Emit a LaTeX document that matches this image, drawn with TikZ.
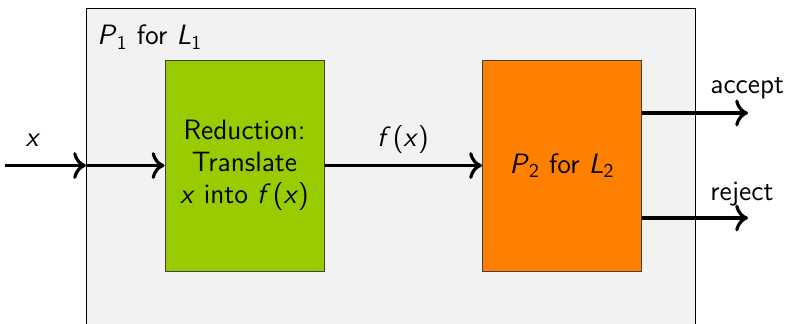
\documentclass[tikz,border=0pt]{standalone}
\usetikzlibrary{arrows.meta}
\renewcommand{\familydefault}{\sfdefault}
\newcommand{\mv}[1]{\textit{#1}}
\newcommand{\sub}[1]{\textsubscript{#1}}
\definecolor{regiongray}{HTML}{F2F2F2}
\definecolor{redgreen}{HTML}{99CC00}
\definecolor{decorange}{HTML}{FF8000}
\begin{document}
\begin{tikzpicture}[x=0.5pt,y=-0.5pt,
  txt/.style={font=\fontsize{14}{16}\selectfont, inner sep=0pt, align=center},
  procbox/.style={draw=black!75, line width=0.5pt, minimum width=79.5pt, minimum height=105.5pt, inner sep=0pt, txt},
  arr/.style={-{To[scale=1.25]}, line width=1.6pt}]
\useasboundingbox (0,0) rectangle (786,323);
\clip (0,0) rectangle (786,323);
\node[draw=black, line width=0.5pt, fill=regiongray, anchor=north west, minimum width=304.5pt, minimum height=180pt, inner sep=0pt] (p1) at (86,7.5) {};
\node[txt, anchor=west] (p1lab) at (97,37) {\mv{P}\sub{1} for \mv{L}\sub{1}};
\node[procbox, fill=redgreen] (red) at (244.5,165.5) {Reduction:\\Translate\\\mv{x} into \mv{f}\kern1pt(\mv{x})};
\node[procbox, fill=decorange] (p2) at (562,165.5) {\mv{P}\sub{2} for \mv{L}\sub{2}};
\coordinate (in) at (5,165.5);
\coordinate (inb) at (86,165.5);
\coordinate (acc) at (748,113);
\coordinate (rej) at (748,218);
\draw[arr] (in) -- (inb);
\draw[arr] (inb) -- (red.west);
\draw[arr] (red.east) -- (p2.west);
\draw[arr] (p2.east |- acc) -- (acc);
\draw[arr] (p2.east |- rej) -- (rej);
\node[txt] (xlab) at (33,140) {\mv{x}};
\node[txt] (fxlab) at (403,140) {\mv{f}\kern1pt(\mv{x})};
\node[txt, anchor=west] (acclab) at (710,88) {accept};
\node[txt, anchor=west] (rejlab) at (710,194) {reject};
\end{tikzpicture}
\end{document}
